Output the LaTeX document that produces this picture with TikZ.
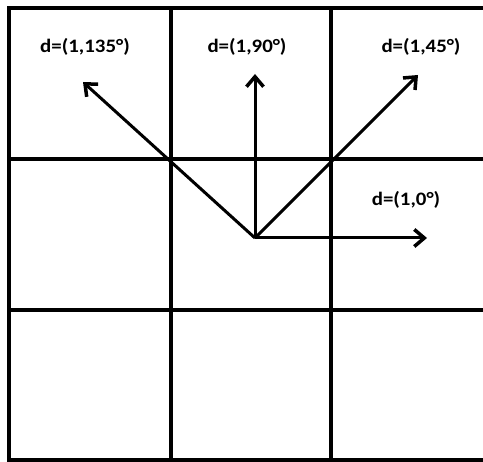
\documentclass[tikz,border=0pt]{standalone}
\usepackage{fontspec}
\setmainfont{Carlito}
\usetikzlibrary{arrows.meta}
\begin{document}
\begin{tikzpicture}[x=1pt,y=-1pt,
  gridline/.style={line width=3.6pt, line cap=rect},
  vec/.style={line width=3pt, -{Straight Barb[length=10pt,width=17pt,line width=3.5pt]}},
  lbl/.style={font=\bfseries\fontsize{19}{21}\selectfont, inner sep=0pt, xscale=1.1}]
\clip (0,0) rectangle (483,462);
\fill[white] (0,0) rectangle (483,462);
% grid
\draw[gridline] (9,8) rectangle (491,460);
\draw[gridline] (171,8) -- (171,460);
\draw[gridline] (331,8) -- (331,460);
\draw[gridline] (9,159) -- (491,159);
\draw[gridline] (9,310) -- (491,310);
% vectors
\coordinate (o) at (255,238);
\coordinate (t135) at (83,82);
\coordinate (t90) at (255,74);
\coordinate (t45) at (418,75);
\coordinate (t0) at (427,238);
\draw[vec] (o) -- (t135);
\draw[vec] (o) -- (t90);
\draw[vec] (o) -- (t45);
\draw[vec] (o) -- (t0);
% labels
\node[lbl] (l135) at (85,47) {d=(1,135°)};
\node[lbl] (l90) at (247,47) {d=(1,90°)};
\node[lbl] (l45) at (421,47) {d=(1,45°)};
\node[lbl] (l0) at (406,200) {d=(1,0°)};
\end{tikzpicture}
\end{document}
